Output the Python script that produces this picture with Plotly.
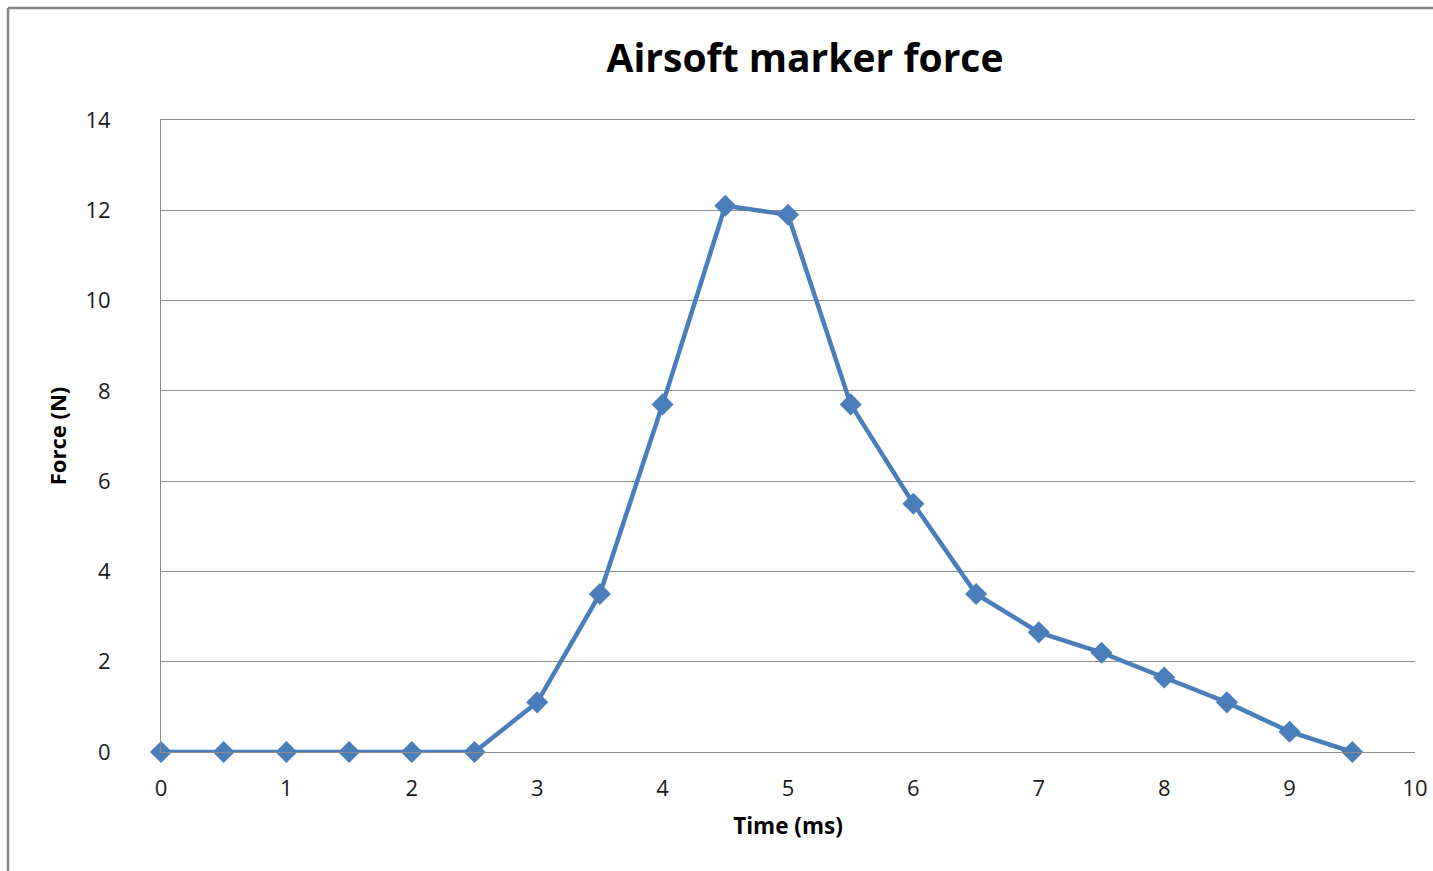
import plotly.graph_objects as go

# Time samples (ms) and measured force (N)
time_ms = [0, 0.5, 1, 1.5, 2, 2.5, 3, 3.5, 4, 4.5, 5, 5.5, 6, 6.5, 7, 7.5, 8, 8.5, 9, 9.5]
force_n = [0, 0, 0, 0, 0, 0, 1.1, 3.5, 7.7, 12.1, 11.9, 7.7, 5.5, 3.5, 2.65, 2.2, 1.65, 1.1, 0.45, 0]

x_ticks = list(range(0, 11))
y_ticks = list(range(0, 15, 2))

LINE_BLUE = "#4a7ebb"
GRID_GREY = "#8c8c8c"
FONT = "'Open Sans', sans-serif"

fig = go.Figure()
fig.add_trace(go.Scatter(
    x=time_ms, y=force_n,
    mode="lines+markers",
    line=dict(color=LINE_BLUE, width=4.5),
    marker=dict(symbol="diamond", size=17, color=LINE_BLUE),
    cliponaxis=False,
    showlegend=False,
))

W, H = 1433, 871
L, R, T, B = 161, 18, 120, 119

fig.update_layout(
    width=W, height=H,
    margin=dict(l=L, r=R, t=T, b=B, autoexpand=False),
    paper_bgcolor="white",
    plot_bgcolor="white",
    font=dict(family=FONT, color="#1a1a1a", size=22),
    title=dict(
        text="<b>Airsoft marker force</b>",
        x=805 / W, xref="container", xanchor="center",
        y=1 - 58 / H, yref="container", yanchor="middle",
        font=dict(size=39, color="black", family=FONT),
    ),
    xaxis=dict(
        range=[0, 10],
        tickvals=x_ticks,
        showgrid=False,
        zeroline=False,
        showline=True,
        mirror=True,
        linecolor=GRID_GREY,
        linewidth=1,
        ticks="",
        automargin=False,
        ticklabelstandoff=17,
        title=dict(text="<b>Time (ms)</b>", font=dict(size=22.5, color="black"), standoff=16),
    ),
    yaxis=dict(
        range=[0, 14],
        tickvals=y_ticks,
        showgrid=True,
        gridcolor=GRID_GREY,
        gridwidth=1,
        zeroline=False,
        showline=True,
        linecolor=GRID_GREY,
        linewidth=1,
        ticks="",
        automargin=False,
        ticklabelstandoff=45,
        title=dict(text="<b>Force (N)</b>", font=dict(size=22, color="black"), standoff=12),
    ),
    shapes=[
        # outer chart frame (left and top edges)
        dict(type="line", xref="paper", yref="paper",
             x0=(8 - L) / (W - L - R), x1=(8 - L) / (W - L - R),
             y0=(H - B - 8) / (H - T - B), y1=(H - B - 875) / (H - T - B),
             line=dict(color="#888888", width=2.5)),
        dict(type="line", xref="paper", yref="paper",
             x0=(8 - L) / (W - L - R), x1=(1440 - L) / (W - L - R),
             y0=(H - B - 8) / (H - T - B), y1=(H - B - 8) / (H - T - B),
             line=dict(color="#888888", width=2.5)),
    ],
)

fig.write_html("out.html")
